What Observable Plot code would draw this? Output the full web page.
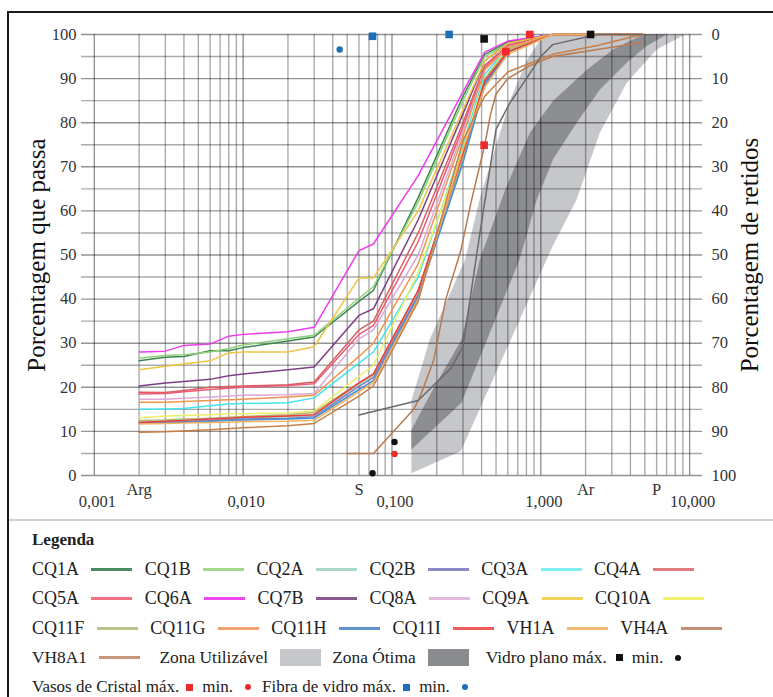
<!DOCTYPE html>
<html><head><meta charset="utf-8">
<script src="https://cdn.jsdelivr.net/npm/d3@7"></script>
<script src="https://cdn.jsdelivr.net/npm/@observablehq/plot@0.6"></script>
<style>
html,body{margin:0;padding:0;background:#fff;overflow:hidden;}
body{font-family:"Liberation Serif","Liberation Sans",Arial,sans-serif;color:#222;}
#box{position:absolute;left:7px;top:11px;width:820px;height:760px;border:2px solid #1a1a1a;}
#chart{height:506px;}
#legend{border-top:2px solid #cfcfcf;padding:4px 0 0 23px;font-size:18px;}
#legend .row{height:29.5px;display:flex;align-items:center;white-space:nowrap;}
#legend .ttl{font-weight:bold;font-size:17px;}
.sw{display:inline-block;width:41px;height:3px;margin:0 12.4px 0 12.4px;}
.box{display:inline-block;width:41px;height:17px;margin:0 11px 0 12px;}
.sq{display:inline-block;width:7px;height:7px;margin:0 9px 0 7px;}
.ci{display:inline-block;width:6px;height:6px;border-radius:50%;margin:0 10px 0 12px;}
.r4{font-size:17.4px;}
.small{font-size:17px;}
</style></head>
<body>
<div id="box"><div id="chart"></div><div id="legend"></div></div>
<script>
// ---------- data ----------
const sieveX = [0.002, 0.003, 0.004, 0.006, 0.008, 0.01, 0.02, 0.03, 0.06, 0.075, 0.15, 0.3, 0.42, 0.6, 1.2, 2.4, 4.8];

const CQ1A  = [26.0, 26.8, 27.0, 28.3, 28.3, 29.0, 30.5, 31.4, 39.5, 42.0, 63, 86, 95.5, 98.3, 100, 100, 100];
const CQ1B  = [26.6, 27.2, 27.4, 28.0, 28.8, 29.6, 31.0, 31.8, 40.2, 42.8, 62, 85, 95.0, 98.0, 100, 100, 100];
const CQ2A  = [12.1, 12.3, 12.4, 12.6, 12.8, 13.0, 13.3, 13.6, 20.6, 22.6, 41, 71, 89.0, 96.5, 100, 100, 100];
const CQ2B  = [12.0, 12.1, 12.2, 12.4, 12.6, 12.8, 13.0, 13.3, 20.2, 22.2, 41, 72, 89.0, 96.2, 100, 100, 100];
const CQ3A  = [15.0, 15.1, 15.2, 15.8, 16.2, 16.3, 16.5, 17.6, 25.5, 28.0, 45, 75, 91.0, 97.0, 100, 100, 100];
const CQ4A  = [18.9, 18.8, 19.3, 20.0, 20.2, 20.3, 20.6, 21.2, 33.0, 35.0, 55, 80, 93.0, 97.5, 100, 100, 100];
const CQ5A  = [18.5, 18.6, 19.0, 19.5, 19.8, 20.0, 20.4, 20.8, 32.0, 34.0, 53, 79, 92.5, 97.5, 100, 100, 100];
const CQ6A  = [28.0, 28.2, 29.5, 29.8, 31.6, 32.0, 32.6, 33.6, 51.0, 52.5, 68, 87, 96.0, 98.5, 100, 100, 100];
const CQ7B  = [20.3, 21.0, 21.3, 21.8, 22.6, 23.0, 24.0, 24.6, 36.3, 37.8, 58, 82, 94.0, 98.0, 100, 100, 100];
const CQ8A  = [17.3, 17.3, 17.5, 17.8, 18.0, 18.2, 18.3, 18.6, 31.0, 33.0, 50, 78, 92.0, 97.0, 100, 100, 100];
const CQ9A  = [24.0, 24.8, 25.3, 26.0, 27.8, 28.0, 28.0, 29.2, 44.8, 44.8, 60, 83, 94.0, 98.0, 100, 100, 100];
const CQ10A = [13.1, 13.5, 13.6, 13.8, 14.0, 14.0, 14.2, 14.6, 22.5, 25.0, 46, 74, 90.0, 97.0, 100, 100, 100];
const CQ11F = [12.5, 12.6, 12.8, 13.0, 13.2, 13.4, 13.8, 14.3, 21.0, 23.0, 42, 72, 90.0, 96.5, 100, 100, 100];
const CQ11G = [16.6, 16.6, 16.8, 17.0, 17.2, 17.3, 17.8, 18.2, 27.0, 30.0, 48, 77, 92.0, 97.0, 100, 100, 100];
const CQ11H = [11.8, 12.0, 12.1, 12.3, 12.5, 12.6, 12.8, 13.0, 19.5, 21.5, 40.5, 71, 88.5, 96.0, 100, 100, 100];
const CQ11I = [12.0, 12.3, 12.5, 12.8, 13.0, 13.2, 13.5, 13.8, 21.0, 23.0, 42, 73, 89.5, 96.0, 100, 100, 100];
const VH1A  = [11.7, 11.8, 11.9, 12.0, 12.1, 12.2, 12.3, 12.5, 19.0, 21.0, 40, 74, 88.0, 95.5, 100, 100, 100];

const clusterNames  = ["CQ1A","CQ1B","CQ2A","CQ2B","CQ3A","CQ4A","CQ5A","CQ6A","CQ7B","CQ8A","CQ9A","CQ10A","CQ11F","CQ11G","CQ11H","CQ11I","VH1A"];
const clusterValues = [CQ1A, CQ1B, CQ2A, CQ2B, CQ3A, CQ4A, CQ5A, CQ6A, CQ7B, CQ8A, CQ9A, CQ10A, CQ11F, CQ11G, CQ11H, CQ11I, VH1A];

// coarse samples with their own sieve points
const VH4A_x  = [0.05, 0.075, 0.14, 0.155, 0.19, 0.23, 0.29, 0.34, 0.42, 0.46, 0.5, 0.6, 0.85, 1.2, 4.8];
const VH4A_y  = [5, 5, 15, 18, 26, 40, 51, 62, 75, 82, 86.5, 90, 93, 95, 98.2];
const VH8A1_x = [0.002, 0.003, 0.006, 0.01, 0.02, 0.03, 0.06, 0.075, 0.15, 0.3, 0.42, 0.6, 1.2, 2.4, 4.8];
const VH8A1_y = [9.8, 9.9, 10.4, 10.8, 11.3, 11.8, 18.0, 20.3, 39.5, 76, 86, 91.5, 95.5, 97.5, 100];
const extra_x = [0.06, 0.15, 0.25, 0.3, 0.39, 0.5, 0.62, 0.8, 1.0, 1.2, 2.4, 4.8];
const extra_y = [13.7, 17, 24.4, 29.3, 55, 78.5, 84.5, 90, 95, 97.7, 100, 100];

const seriesColors = {
  CQ1A:"#3c8750", CQ1B:"#8fd07a", CQ2A:"#9fd6c4", CQ2B:"#7f80c0", CQ3A:"#45e4ee", CQ4A:"#d9605f",
  CQ5A:"#ec5a78", CQ6A:"#ee3cee", CQ7B:"#7d3f86", CQ8A:"#dda8d6", CQ9A:"#ecc645", CQ10A:"#eeee66",
  CQ11F:"#b2b96e", CQ11G:"#ef9550", CQ11H:"#4a8fd0", CQ11I:"#ee3c3c", VH1A:"#f3b25e", VH4A:"#b87a50",
  VH8A1:"#c88048", extra:"#6a6a6a"
};
const legendColors = {
  CQ1A:"#4a8a62", CQ1B:"#a3d88c", CQ2A:"#a9d8c9", CQ2B:"#8a8ac2", CQ3A:"#7df0f4", CQ4A:"#e07c7c",
  CQ5A:"#f07086", CQ6A:"#f048f0", CQ7B:"#8a5a8e", CQ8A:"#e2b8dc", CQ9A:"#f0d25a", CQ10A:"#f2f272",
  CQ11F:"#bcc28c", CQ11G:"#f3a070", CQ11H:"#5f93cc", CQ11I:"#f05c5c", VH1A:"#f5b870", VH4A:"#c48f72",
  VH8A1:"#c49878"
};

// grading envelopes
const utilMaxX = [0.135, 0.18, 0.31, 0.39, 0.62, 0.8, 1.0, 1.15];
const utilMaxY = [17, 31, 49, 63, 85, 94, 99, 100];
const utilMinX = [0.135, 0.29, 1.2, 1.74, 2.49, 3.77, 6.0, 9.3];
const utilMinY = [0.5, 5.5, 52, 62.6, 77.7, 89, 96.6, 100];
const otimaMaxX = [0.135, 0.194, 0.293, 0.389, 0.588, 0.844, 1.21, 2.04, 3.05, 4.85];
const otimaMaxY = [10.4, 20.3, 30.8, 49, 65.6, 77.7, 85, 92, 96.6, 100];
const otimaMinX = [0.135, 0.293, 0.72, 0.94, 1.21, 1.74, 2.49, 3.77, 5.14, 7.0];
const otimaMinY = [5.9, 16.5, 49, 62.6, 71.7, 80, 87.5, 93.6, 97.4, 100];

// limit markers
const planoMaxX = [0.416, 2.16],  planoMaxY = [99.0, 100];
const planoMinX = [0.104, 0.074], planoMinY = [7.6, 0.5];
const cristalMaxX = [0.416, 0.582, 0.843], cristalMaxY = [74.9, 96.1, 100];
const cristalMinX = [0.104], cristalMinY = [4.9];
const fibraMaxX = [0.074, 0.242], fibraMaxY = [99.6, 100];
const fibraMinX = [0.0445], fibraMinY = [96.6];

// axis text
const xTickValues = [0.001, 0.01, 0.1, 1, 10];
const xTickLabels = ["0,001", "0,010", "0,100", "1,000", "10,000"];
const yTickValues = [0, 10, 20, 30, 40, 50, 60, 70, 80, 90, 100];
const classLabels = ["Arg", "S", "Ar", "P"];
const classValues = [0.002, 0.06, 2, 6];

// ---------- build tables ----------
const pts = (xs, ys) => xs.map((x, i) => ({x, y: ys[i]}));
const lineRows = [];
clusterNames.forEach((n, k) => sieveX.forEach((x, i) => lineRows.push({name: n, x, y: clusterValues[k][i]})));
pts(VH8A1_x, VH8A1_y).forEach(p => lineRows.push({name: "VH8A1", ...p}));
pts(VH4A_x, VH4A_y).forEach(p => lineRows.push({name: "VH4A", ...p}));
pts(extra_x, extra_y).forEach(p => lineRows.push({name: "extra", ...p}));

const poly = (mx, my, nx, ny) => pts(mx, my).concat(pts(nx, ny).reverse());
const utilPoly = poly(utilMaxX, utilMaxY, utilMinX, utilMinY);
const otimaPoly = poly(otimaMaxX, otimaMaxY, otimaMinX, otimaMinY);

const gridXs = [];
for (const d of [0.001, 0.01, 0.1, 1]) for (let m = 1; m <= 9; m++) gridXs.push(+(d * m).toPrecision(3));
gridXs.push(10);
const gridYs = d3.range(0, 101, 5);

const fmtX = d => xTickLabels[xTickValues.indexOf(d)] ?? "";
const font = '"Liberation Serif","Liberation Sans",Arial,sans-serif';

const chart = Plot.plot({
  width: 763, height: 506,
  marginLeft: 72, marginRight: 70, marginTop: 21, marginBottom: 44,
  style: {fontFamily: font, fontSize: "16.5px", color: "#333", background: "transparent"},
  x: {type: "log", domain: [0.00082, 12.2]},
  y: {domain: [0, 100]},
  marks: [
    Plot.line(utilPoly, {x: "x", y: "y", fill: "#c6c7cb", stroke: "none"}),
    Plot.line(otimaPoly, {x: "x", y: "y", fill: "#8d8e92", stroke: "none"}),
    Plot.ruleY(gridYs, {stroke: "#000", strokeOpacity: d => d % 10 === 0 ? 0.42 : 0.33, strokeWidth: 1.4}),
    Plot.ruleX(gridXs, {y1: 0, y2: 100, stroke: "#000", strokeOpacity: d => xTickValues.includes(d) ? 0.42 : 0.33, strokeWidth: 1.4}),
    Plot.line(lineRows, {x: "x", y: "y", z: "name", stroke: d => seriesColors[d.name], strokeWidth: 1.5}),
    Plot.dot(pts(planoMaxX, planoMaxY), {x: "x", y: "y", symbol: "square", r: 4.3, fill: "#111"}),
    Plot.dot(pts(planoMinX, planoMinY), {x: "x", y: "y", r: 3.2, fill: "#111"}),
    Plot.dot(pts(cristalMaxX, cristalMaxY), {x: "x", y: "y", symbol: "square", r: 4.3, fill: "#ee2a2a"}),
    Plot.dot(pts(cristalMinX, cristalMinY), {x: "x", y: "y", r: 3.2, fill: "#ee2a2a"}),
    Plot.dot(pts(fibraMaxX, fibraMaxY), {x: "x", y: "y", symbol: "square", r: 4.3, fill: "#1f6fb8"}),
    Plot.dot(pts(fibraMinX, fibraMinY), {x: "x", y: "y", r: 3.2, fill: "#1f6fb8"}),
    Plot.axisX({ticks: xTickValues, tickFormat: fmtX, tickSize: 0, tickPadding: 20, dx: 3, label: null}),
    Plot.axisY({anchor: "left", ticks: yTickValues, tickSize: 0, tickPadding: 5, label: null}),
    Plot.axisY({anchor: "right", ticks: yTickValues, tickFormat: d => String(100 - d), tickSize: 0, tickPadding: 9, textAnchor: "start", label: null}),
    Plot.text(classLabels, {x: (d, i) => classValues[i], text: d => d, frameAnchor: "bottom", dy: 19, fontSize: 16.5}),
    Plot.text(["Porcentagem que passa"], {frameAnchor: "left", dx: -45, rotate: -90, fontSize: 25, fill: "#111", textAnchor: "middle"}),
    Plot.text(["Porcentagem de retidos"], {frameAnchor: "right", dx: 47, rotate: -90, fontSize: 25, fill: "#111", textAnchor: "middle"})
  ]
});
document.getElementById("chart").appendChild(chart);

// ---------- legend ----------
const legendRows = [
  ["CQ1A","CQ1B","CQ2A","CQ2B","CQ3A","CQ4A"],
  ["CQ5A","CQ6A","CQ7B","CQ8A","CQ9A","CQ10A"],
  ["CQ11F","CQ11G","CQ11H","CQ11I","VH1A","VH4A"]
];
const L = document.getElementById("legend");
let html = '<div class="row ttl">Legenda</div>';
for (const r of legendRows) {
  html += '<div class="row">' + r.map(n =>
    `<span>${n}</span><span class="sw" style="background:${legendColors[n]}"></span>`).join("") + '</div>';
}
html += `<div class="row r4"><span>VH8A1</span><span class="sw" style="background:${legendColors.VH8A1};margin-right:19px"></span>` +
  `<span>Zona Utilizável</span><span class="box" style="background:#c6c7cb"></span>` +
  `<span>Zona Ótima</span><span class="box" style="background:#8a8b8f;margin-right:17px"></span>` +
  `<span>Vidro plano máx.</span><span class="sq" style="background:#111;margin-left:9px"></span><span>min.</span><span class="ci" style="background:#111"></span></div>`;
html += `<div class="row small"><span>Vasos de Cristal máx.</span><span class="sq" style="background:#ee2a2a"></span><span>min.</span><span class="ci" style="background:#ee2a2a;margin-right:11px"></span>` +
  `<span>Fibra de vidro máx.</span><span class="sq" style="background:#1f6fb8"></span><span>min.</span><span class="ci" style="background:#1f6fb8"></span></div>`;
L.innerHTML = html;
</script>
</body></html>
